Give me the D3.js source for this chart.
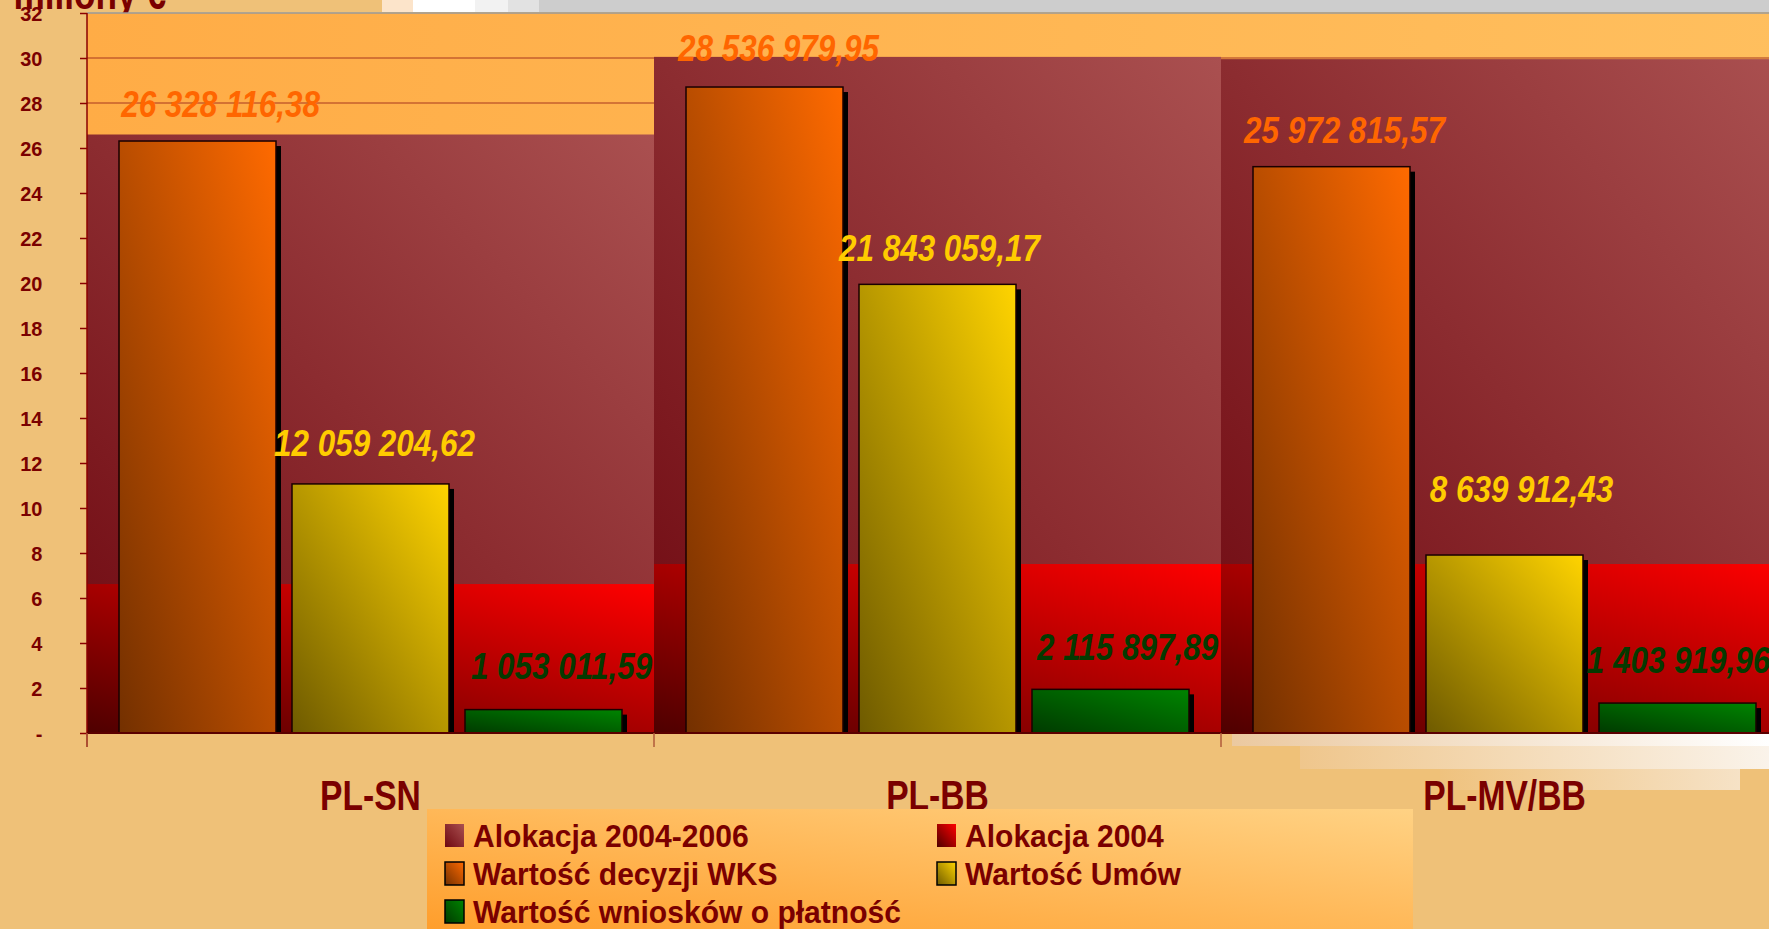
<!DOCTYPE html>
<html><head><meta charset="utf-8">
<script src="https://cdn.jsdelivr.net/npm/d3@7"></script>
<style>
html,body{margin:0;padding:0;background:#EFC178;overflow:hidden;}
text{font-family:"Liberation Sans",Arial,sans-serif;}
</style></head>
<body>
<svg id="chart" width="1769" height="929"></svg>
<script>
// ---- data ----
const categories = ["PL-SN", "PL-BB", "PL-MV/BB"];
const seriesNames = ["Alokacja 2004-2006", "Alokacja 2004", "Wartość decyzji WKS", "Wartość Umów", "Wartość wniosków o płatność"];
const alloc0406 = [26.6, 30.05, 29.95];
const alloc2004 = [6.62, 7.51, 7.51];
const wks = [26.31, 28.71, 25.17];
const umowy = [11.07, 19.94, 7.91];
const wnioski = [1.04, 1.94, 1.33];
const wksLabels = ["26 328 116,38", "28 536 979,95", "25 972 815,57"];
const umowyLabels = ["12 059 204,62", "21 843 059,17", "8 639 912,43"];
const wnioskiLabels = ["1 053 011,59", "2 115 897,89", "1 403 919,96"];
const yTickValues = [0, 2, 4, 6, 8, 10, 12, 14, 16, 18, 20, 22, 24, 26, 28, 30, 32];
const yTickLabels = ["-", "2", "4", "6", "8", "10", "12", "14", "16", "18", "20", "22", "24", "26", "28", "30", "32"];
const titleText = "miliony €";

// ---- layout ----
const W = 1769, H = 929;
const plotL = 87, plotT = 13, plotB = 733, bandW = 567;
// manual nudges of the value labels (px), per series and category
const labelDx = [[23, 14, 13], [4, 2, 17], [18, 17, 1]];
const labelDy = [[2, 0, 2], [-2, 3, -27], [-5, -3, -4]];
const svg = d3.select("#chart");
const defs = svg.append("defs");
const dark = "#7A0000";

function grad(id, c0, c1, x1, y1, x2, y2) {
  const g = defs.append("linearGradient").attr("id", id)
    .attr("x1", x1).attr("y1", y1).attr("x2", x2).attr("y2", y2);
  g.append("stop").attr("offset", "0%").attr("stop-color", c0);
  g.append("stop").attr("offset", "100%").attr("stop-color", c1);
}
grad("gPlot", "#FFAC46", "#FFBF5E", 0, 0, 1, 0);
grad("gA0406", "#6E0810", "#AA5050", 0, 1, 1, 0);
grad("gA2004", "#4E0000", "#FF0000", 0, 1, 1, 0);
grad("gWks", "#733000", "#FF6A00", 0, 1, 1, 0);
grad("gUm", "#6E5A00", "#FFD400", 0, 1, 1, 0);
grad("gWn", "#003A00", "#008400", 0, 1, 1, 0);
grad("gLeg", "#FF9E2C", "#FFD284", 0, 1, 1, 0);
grad("gFade1", "#EBC9A0", "#FFFFFF", 0, 0, 1, 0);
grad("gFade2", "#EFC68C", "#FAF3EA", 0, 0, 1, 0);
grad("gFade3", "#EFC27E", "#F6E2C6", 0, 0, 1, 0);
defs.append("clipPath").attr("id", "clipW").append("rect").attr("x", 0).attr("y", 0).attr("width", W).attr("height", H);

const x = d3.scaleBand().domain(categories).range([plotL, plotL + 3 * bandW]).padding(0);
const xs = d3.scaleBand().domain([0, 1, 2]).range([0, bandW]).paddingInner(0.0925).paddingOuter(0.185);
const y = d3.scaleLinear().domain([0, 32]).range([plotB, plotT]);

// top strip (screenshot artefact)
const strip = [[382, 413, "#FCE4CA"], [413, 475, "#FFFFFF"], [475, 508, "#F2F2F2"], [508, 539, "#E2E2E2"], [539, W, "#CDCDCD"]];
svg.selectAll("rect.strip").data(strip).enter().append("rect").attr("class", "strip")
  .attr("x", d => d[0]).attr("y", 0).attr("width", d => d[1] - d[0]).attr("height", 12).attr("fill", d => d[2]);

// title (partially cut)
svg.append("text").attr("text-anchor", "end").attr("font-weight", "bold").attr("font-size", 44)
  .attr("fill", dark).attr("transform", "translate(166,9) scale(0.8,1)").text(titleText);

const plot = svg.append("g").attr("clip-path", "url(#clipW)");
plot.append("rect").attr("x", plotL).attr("y", plotT).attr("width", 3 * bandW).attr("height", plotB - plotT).attr("fill", "url(#gPlot)");

// gridlines
plot.selectAll("line.grid").data(yTickValues.filter(v => v > 0 && v < 32)).enter().append("line")
  .attr("x1", plotL).attr("x2", plotL + 3 * bandW).attr("y1", d => y(d)).attr("y2", d => y(d))
  .attr("stroke", "#A8361E").attr("stroke-width", 1);

// allocation areas
plot.selectAll("rect.a0406").data(categories).enter().append("rect")
  .attr("x", d => x(d)).attr("width", x.bandwidth())
  .attr("y", (d, i) => y(alloc0406[i])).attr("height", (d, i) => y(0) - y(alloc0406[i])).attr("fill", "url(#gA0406)");
plot.selectAll("rect.a2004").data(categories).enter().append("rect")
  .attr("x", d => x(d)).attr("width", x.bandwidth())
  .attr("y", (d, i) => y(alloc2004[i])).attr("height", (d, i) => y(0) - y(alloc2004[i])).attr("fill", "url(#gA2004)");

// bars
const bars = [
  {vals: wks, labels: wksLabels, fill: "url(#gWks)", lc: "#FF6600"},
  {vals: umowy, labels: umowyLabels, fill: "url(#gUm)", lc: "#FFCC00"},
  {vals: wnioski, labels: wnioskiLabels, fill: "url(#gWn)", lc: "#053A00"}
];
bars.forEach((s, si) => {
  const g = plot.append("g");
  categories.forEach((c, ci) => {
    const bx = x(c) + xs(si), bw = xs.bandwidth(), by = y(s.vals[ci]), bh = y(0) - y(s.vals[ci]);
    g.append("rect").attr("x", bx + 5).attr("y", by + 5).attr("width", bw).attr("height", bh - 5).attr("fill", "#000");
    g.append("rect").attr("x", bx).attr("y", by).attr("width", bw).attr("height", bh)
      .attr("fill", s.fill).attr("stroke", "#1a0000").attr("stroke-width", 1.5);
  });
});
// top border
svg.append("line").attr("x1", plotL).attr("x2", W).attr("y1", plotT).attr("y2", plotT).attr("stroke", "#9A9A9A").attr("stroke-width", 1.5);

// value labels
bars.forEach((s, si) => {
  categories.forEach((c, ci) => {
    const cx = x(c) + xs(si) + xs.bandwidth() / 2 + labelDx[si][ci];
    const by = y(s.vals[ci]) - 26 + labelDy[si][ci];
    svg.append("text").attr("text-anchor", "middle").attr("font-weight", "bold").attr("font-style", "italic")
      .attr("font-size", 37).attr("fill", s.lc)
      .attr("transform", `translate(${cx},${by}) scale(0.85,1)`).text(s.labels[ci]);
  });
});

// bottom-right fade (screenshot artefact)
svg.append("rect").attr("x", 1232).attr("y", 734).attr("width", W - 1232).attr("height", 12).attr("fill", "url(#gFade1)");
svg.append("rect").attr("x", 1300).attr("y", 746).attr("width", W - 1300).attr("height", 23).attr("fill", "url(#gFade2)");
svg.append("rect").attr("x", 1440).attr("y", 769).attr("width", 300).attr("height", 21).attr("fill", "url(#gFade3)");

// axes
const yAxis = d3.axisLeft(y).tickValues(yTickValues).tickFormat((d, i) => yTickLabels[i]).tickSize(7).tickPadding(0);
const ya = svg.append("g").attr("transform", `translate(${plotL},0)`).call(yAxis);
ya.select(".domain").remove();
ya.selectAll(".tick line").attr("stroke", "#8B0000").attr("stroke-width", 1.5);
ya.selectAll(".tick text").attr("x", -47).attr("dy", "0.34em").attr("fill", dark)
  .attr("font-size", 21).attr("font-weight", "bold").attr("font-family", '"Liberation Sans",Arial,sans-serif')
  .attr("transform", "scale(0.95,1)");
svg.append("line").attr("x1", plotL).attr("x2", plotL).attr("y1", plotT).attr("y2", plotB + 14).attr("stroke", "#8B0000").attr("stroke-width", 1.5);
svg.append("line").attr("x1", plotL).attr("x2", W).attr("y1", plotB).attr("y2", plotB).attr("stroke", "#5A0000").attr("stroke-width", 2);
svg.selectAll("line.ctick").data(categories).enter().append("line")
  .attr("x1", d => x(d)).attr("x2", d => x(d)).attr("y1", plotB).attr("y2", plotB + 14)
  .attr("stroke", "#B05A3A").attr("stroke-width", 1.5);

// category labels
svg.selectAll("text.cat").data(categories).enter().append("text")
  .attr("text-anchor", "middle").attr("font-weight", "bold").attr("font-size", 42).attr("fill", dark)
  .attr("transform", d => `translate(${x(d) + x.bandwidth() / 2},810) scale(0.8,1)`).text(d => d);

// legend
const leg = svg.append("g");
leg.append("rect").attr("x", 427).attr("y", 809).attr("width", 986).attr("height", 120).attr("fill", "url(#gLeg)");
const legFills = ["url(#gA0406)", "url(#gA2004)", "url(#gWks)", "url(#gUm)", "url(#gWn)"];
const legPos = [[445, 824], [937, 824], [445, 862], [937, 862], [445, 900]];
seriesNames.forEach((n, i) => {
  const [lx, ly] = legPos[i];
  leg.append("rect").attr("x", lx).attr("y", ly).attr("width", 19).attr("height", 23)
    .attr("fill", legFills[i]).attr("stroke", i >= 2 ? "#000" : "none").attr("stroke-width", 1.5);
  leg.append("text").attr("font-weight", "bold").attr("font-size", 31).attr("fill", dark)
    .attr("transform", `translate(${lx + 28},${ly + 23}) scale(0.97,1)`).text(n);
});
</script>
</body></html>
